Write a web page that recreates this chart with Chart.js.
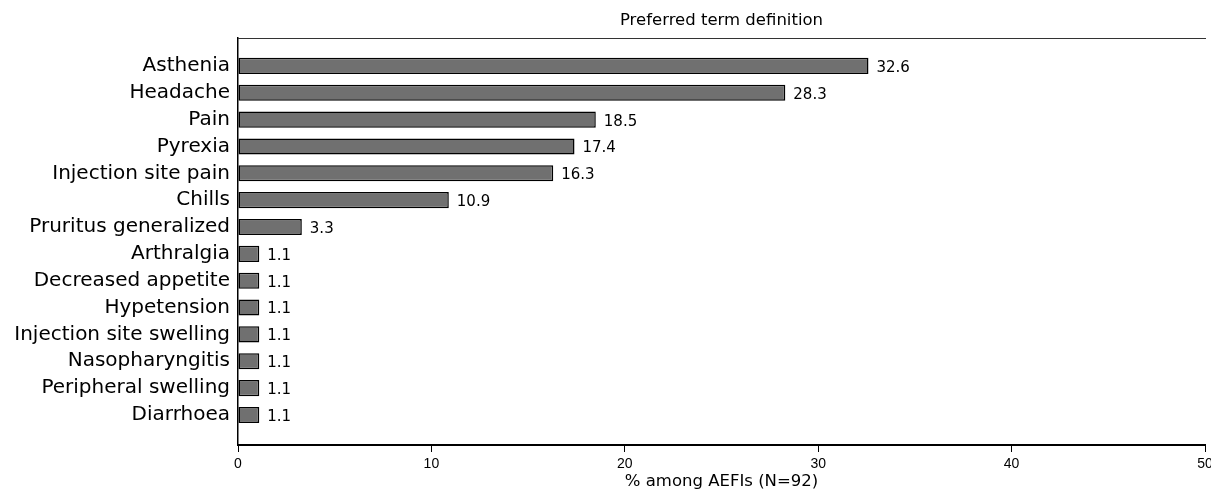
<!DOCTYPE html>
<html>
<head>
<meta charset="utf-8">
<script src="https://cdn.jsdelivr.net/npm/chart.js@4"></script>
<style>
  html, body { margin: 0; padding: 0; background: #fff; }
  #wrap { width: 1211px; height: 490px; }
</style>
</head>
<body>
<div id="wrap"><canvas id="chart"></canvas></div>
<script>
// data
const terms = ['Asthenia', 'Headache', 'Pain', 'Pyrexia', 'Injection site pain', 'Chills',
  'Pruritus generalized', 'Arthralgia', 'Decreased appetite', 'Hypetension',
  'Injection site swelling', 'Nasopharyngitis', 'Peripheral swelling', 'Diarrhoea'];
const percents = [32.6, 28.3, 18.5, 17.4, 16.3, 10.9, 3.3, 1.1, 1.1, 1.1, 1.1, 1.1, 1.1, 1.1];
const xTicks = [0, 10, 20, 30, 40, 50];

const wide = "'DejaVu Sans', sans-serif";
const narrow = "'Liberation Sans Narrow', 'Liberation Sans', Arial, sans-serif";

// value labels next to each bar
const valueLabels = {
  id: 'valueLabels',
  afterDatasetsDraw(chart) {
    const ctx = chart.ctx;
    const meta = chart.getDatasetMeta(0);
    ctx.save();
    ctx.font = '15px ' + wide;
    ctx.fillStyle = '#000';
    ctx.textAlign = 'left';
    ctx.textBaseline = 'middle';
    meta.data.forEach((bar, i) => {
      ctx.fillText(percents[i].toFixed(1), bar.x + 8, bar.y + 2);
    });
    ctx.restore();
  }
};

new Chart(document.getElementById('chart').getContext('2d'), {
  type: 'bar',
  data: {
    datasets: [{
      data: percents.map((v, i) => ({ x: v, y: i })),
      backgroundColor: '#707070',
      borderColor: '#000',
      borderWidth: 1.5,
      borderSkipped: false,
      barPercentage: 0.6,
      categoryPercentage: 1
    }]
  },
  options: {
    indexAxis: 'y',
    responsive: true,
    maintainAspectRatio: false,
    animation: false,
    layout: { padding: 0 },
    plugins: { legend: { display: false }, tooltip: { enabled: false } },
    scales: {
      y: {
        type: 'linear',
        reverse: true,
        offset: false,
        min: -1.04,
        max: 14.12,
        afterBuildTicks: s => { s.ticks = terms.map((t, i) => ({ value: i })); },
        afterFit: s => { s.width = 238; },
        grid: { display: false, drawTicks: false, offset: false },
        border: { color: '#000', width: 1.5 },
        ticks: {
          autoSkip: false,
          padding: 8,
          color: '#000',
          font: { family: wide, size: 20 },
          callback: v => terms[v]
        }
      },
      x: {
        position: 'bottom',
        min: 0,
        max: 50,
        afterBuildTicks: s => { s.ticks = xTicks.map(v => ({ value: v })); },
        afterFit: s => { s.height = 45; s.paddingRight = 6; },
        grid: { drawOnChartArea: false, tickLength: 7, color: '#000', lineWidth: 1 },
        border: { color: '#000', width: 2 },
        ticks: {
          padding: 4,
          maxRotation: 0,
          color: '#000',
          font: { family: narrow, size: 14 }
        },
        title: {
          display: true,
          text: '% among AEFIs (N=92)',
          color: '#000',
          padding: { top: 0, bottom: 0 },
          font: { family: wide, size: 16.5, lineHeight: 1 }
        }
      },
      top: {
        axis: 'x',
        position: 'top',
        min: 0,
        max: 50,
        afterFit: s => { s.height = 38; s.paddingRight = 6; },
        grid: { display: false, drawTicks: false },
        border: { color: '#333', width: 1 },
        ticks: { display: false },
        title: {
          display: true,
          text: 'Preferred term definition',
          color: '#000',
          padding: { top: 11, bottom: 4 },
          font: { family: wide, size: 16.5 }
        }
      }
    }
  },
  plugins: [valueLabels]
});
</script>
</body>
</html>
